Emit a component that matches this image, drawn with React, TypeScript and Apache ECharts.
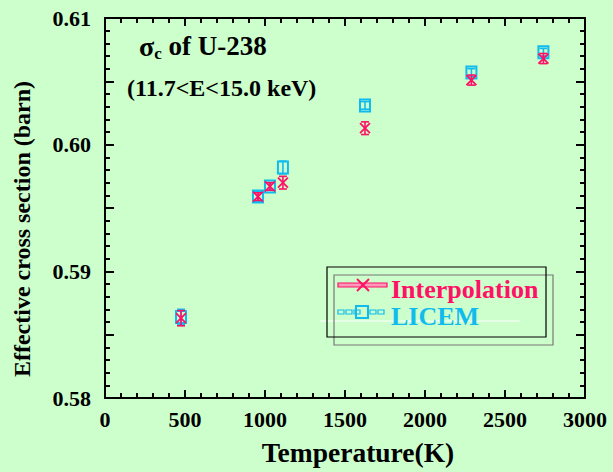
import React, { useEffect, useRef } from "react";
import * as echarts from "echarts";

const temperatures = [475, 956, 1031, 1112, 1625, 2290, 2740];
const interpValues = [0.5863, 0.5959, 0.5967, 0.597, 0.6013, 0.6051, 0.6068];
const interpErrors = [0.0006, 0.0003, 0.0003, 0.0005, 0.0005, 0.0004, 0.0004];
const licemValues = [0.5864, 0.5959, 0.5967, 0.5982, 0.6031, 0.6057, 0.6073];
const licemErrors = [0.0006, 0.0004, 0.0003, 0.0005, 0.0003, 0.0003, 0.0003];
const xTicks = { min: 0, max: 3000, interval: 500 };
const yTicks = { min: 0.58, max: 0.61, interval: 0.005 };

const RED = "#ff1166";
const CYAN = "#11bbee";
const FONT = "'Liberation Serif', 'Times New Roman', serif";

function makeSeries(name: string, vals: number[], errs: number[], color: string, kind: "x" | "square") {
  return {
    type: "custom",
    name,
    data: temperatures.map((t, i) => [t, vals[i], errs[i]]),
    encode: { x: 0, y: 1 },
    renderItem: (params: any, api: any) => {
      const x = api.value(0);
      const y = api.value(1);
      const e = api.value(2);
      const c = api.coord([x, y]);
      const top = api.coord([x, y + e]);
      const bot = api.coord([x, y - e]);
      const cap = 4;
      const ls = { stroke: color, lineWidth: 1.6, fill: "none" };
      const children: any[] = [
        { type: "line", shape: { x1: c[0], y1: top[1], x2: c[0], y2: bot[1] }, style: ls },
        { type: "line", shape: { x1: c[0] - cap, y1: top[1], x2: c[0] + cap, y2: top[1] }, style: ls },
        { type: "line", shape: { x1: c[0] - cap, y1: bot[1], x2: c[0] + cap, y2: bot[1] }, style: ls },
      ];
      if (kind === "x") {
        const s = 5;
        children.push(
          { type: "line", shape: { x1: c[0] - s, y1: c[1] - s, x2: c[0] + s, y2: c[1] + s }, style: { stroke: color, lineWidth: 1.8 } },
          { type: "line", shape: { x1: c[0] - s, y1: c[1] + s, x2: c[0] + s, y2: c[1] - s }, style: { stroke: color, lineWidth: 1.8 } }
        );
      } else {
        children.push({
          type: "rect",
          shape: { x: c[0] - 5, y: c[1] - 6, width: 10, height: 12 },
          style: { stroke: color, lineWidth: 2, fill: "none" },
        });
      }
      return { type: "group", children };
    },
    z: kind === "x" ? 3 : 2,
  };
}

export default function App() {
  const ref = useRef<HTMLDivElement>(null);
  useEffect(() => {
    document.body.style.margin = "0";
    const chart = echarts.init(ref.current!, undefined, { renderer: "svg" });
    const axisLineStyle = { color: "#000", width: 2 };
    const tickStyle = { color: "#000", width: 2 };
    const xCommon = {
      type: "value",
      min: xTicks.min,
      max: xTicks.max,
      interval: xTicks.interval,
      axisLine: { show: true, onZero: false, lineStyle: axisLineStyle },
      axisTick: { show: true, inside: true, length: 8, lineStyle: tickStyle },
      minorTick: { show: true, splitNumber: 5, length: 5, lineStyle: tickStyle },
      splitLine: { show: false },
    };
    const yCommon = {
      type: "value",
      min: yTicks.min,
      max: yTicks.max,
      interval: yTicks.interval,
      axisLine: { show: true, onZero: false, lineStyle: axisLineStyle },
      axisTick: { show: true, inside: true, length: 9, lineStyle: tickStyle },
      minorTick: { show: true, splitNumber: 5, length: 5, lineStyle: tickStyle },
      splitLine: { show: false },
    };
    chart.setOption({
      animation: false,
      backgroundColor: "#ccffcc",
      grid: { left: 105, right: 28, top: 18, bottom: 74 },
      xAxis: [
        {
          ...xCommon,
          position: "bottom",
          axisLabel: {
            show: true,
            margin: 10,
            fontFamily: FONT,
            fontWeight: "bold",
            fontSize: 22,
            color: "#000",
            formatter: (v: number) => String(Math.round(v)),
          },
        },
        { ...xCommon, position: "top", axisLabel: { show: false } },
      ],
      yAxis: [
        {
          ...yCommon,
          position: "left",
          axisLabel: {
            show: true,
            margin: 14,
            fontFamily: FONT,
            fontWeight: "bold",
            fontSize: 22,
            color: "#000",
            formatter: (v: number) => (Math.round(v * 1000) % 10 === 0 ? v.toFixed(2) : ""),
          },
        },
        { ...yCommon, position: "right", axisLabel: { show: false } },
      ],
      series: [
        makeSeries("LICEM", licemValues, licemErrors, CYAN, "square"),
        makeSeries("Interpolation", interpValues, interpErrors, RED, "x"),
      ],
      graphic: [
        {
          type: "text",
          x: 22,
          y: 229,
          rotation: Math.PI / 2,
          style: {
            text: "Effective cross section (barn)",
            fontFamily: FONT,
            fontWeight: "bold",
            fontSize: 24,
            fill: "#000",
            align: "center",
            verticalAlign: "middle",
          },
        },
        {
          type: "text",
          x: 358,
          y: 452,
          style: {
            text: "Temperature(K)",
            fontFamily: FONT,
            fontWeight: "bold",
            fontSize: 27.5,
            fill: "#000",
            align: "center",
            verticalAlign: "middle",
          },
        },
        {
          type: "text",
          left: 139,
          top: 32,
          style: {
            text: "{s|σ}{sub|c}{n| of U-238}",
            rich: {
              s: { fontFamily: FONT, fontWeight: "bold", fontSize: 28, fill: "#000" },
              sub: { fontFamily: FONT, fontWeight: "bold", fontSize: 17, fill: "#000", padding: [14, 0, 0, 0] },
              n: { fontFamily: FONT, fontWeight: "bold", fontSize: 27, fill: "#000" },
            },
          },
        },
        {
          type: "text",
          left: 127,
          top: 76,
          style: { text: "(11.7<E<15.0 keV)", fontFamily: FONT, fontWeight: "bold", fontSize: 24, fill: "#000" },
        },
        { type: "line", shape: { x1: 320, y1: 321, x2: 520, y2: 321 }, style: { stroke: "#ffffff", lineWidth: 1 }, z: 1 },
        { type: "rect", shape: { x: 334, y: 275, width: 219, height: 70 }, style: { stroke: "#777777", lineWidth: 1.2, fill: "none" }, z: 5 },
        { type: "rect", shape: { x: 327, y: 267, width: 219, height: 70 }, style: { stroke: "#000", lineWidth: 1.2, fill: "none" }, z: 6 },
        { type: "rect", shape: { x: 338, y: 283, width: 49, height: 4 }, style: { stroke: RED, lineWidth: 1.2, fill: "#ff99bb" }, z: 6 },
        { type: "line", shape: { x1: 357, y1: 279, x2: 369, y2: 291 }, style: { stroke: RED, lineWidth: 2 }, z: 7 },
        { type: "line", shape: { x1: 357, y1: 291, x2: 369, y2: 279 }, style: { stroke: RED, lineWidth: 2 }, z: 7 },
        {
          type: "text",
          left: 391,
          top: 276,
          style: { text: "Interpolation", fontFamily: FONT, fontWeight: "bold", fontSize: 26, fill: RED },
          z: 7,
        },
        ...[338, 346, 354, 370, 378].map((x) => ({
          type: "rect",
          shape: { x, y: 310, width: 6, height: 4 },
          style: { stroke: CYAN, lineWidth: 1.2, fill: "none" },
          z: 6,
        })),
        { type: "rect", shape: { x: 356, y: 306, width: 12, height: 12 }, style: { stroke: CYAN, lineWidth: 2, fill: "none" }, z: 7 },
        {
          type: "text",
          left: 391,
          top: 303,
          style: { text: "LICEM", fontFamily: FONT, fontWeight: "bold", fontSize: 26, fill: CYAN },
          z: 7,
        },
      ],
    });
    return () => chart.dispose();
  }, []);
  return <div ref={ref} style={{ width: 613, height: 472 }} />;
}
